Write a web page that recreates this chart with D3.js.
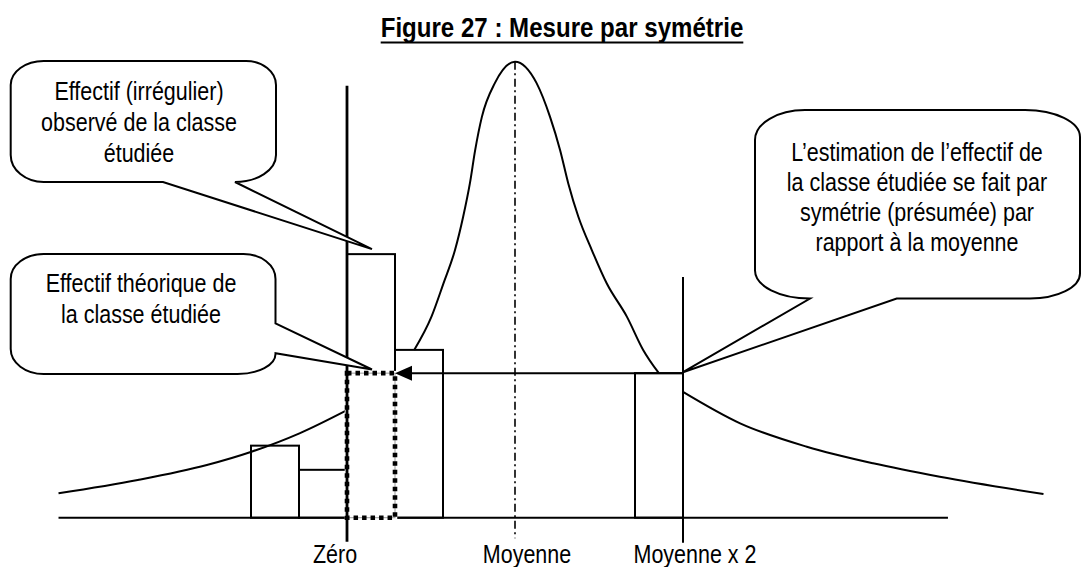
<!DOCTYPE html>
<html><head><meta charset="utf-8">
<script src="https://cdn.jsdelivr.net/npm/d3@7"></script>
<style>body{margin:0;background:#fff}svg{display:block}</style>
</head><body>
<svg id="c" width="1082" height="567"></svg>
<script>
// ---------------- DATA ----------------
const titleText = "Figure 27 : Mesure par symétrie";
const tickValues = [0, 3.5, 7];
const tickLabels = ["Zéro", "Moyenne", "Moyenne x 2"];

// histogram classes (observed)
const barStart  = [-2, -1, 0, 1, 6];
const barEnd    = [-1, 0, 1, 2, 7];
const barHeight = [15.8, 10.5, 57.8, 36.8, 31.7];

// theoretical class (dotted)
const theoStart = 0, theoEnd = 1, theoHeight = 31.7;

// bell curve (central part)
const bellX = [1.40, 1.76, 2.01, 2.25, 2.42, 2.56, 2.67, 2.81, 3.08, 3.5, 3.95, 4.23, 4.44, 4.61, 4.82, 5.10, 5.41, 5.83, 6.17, 6.49];
const bellY = [36.8, 44.1, 51.4, 58.7, 66.0, 73.3, 80.6, 87.9, 95.3, 100, 95.3, 87.9, 80.6, 73.3, 66.0, 58.7, 51.4, 44.1, 36.8, 31.8];

// tails
const leftTailX  = [-6.01, -4.36, -2.92, -1.99, -0.99, 0];
const leftTailY  = [5.35, 8.27, 11.56, 14.47, 18.51, 23.6];
const rightTailX = [7.0, 8.19, 9.58, 10.96, 12.35, 14.51];
const rightTailY = [27.6, 20.7, 15.57, 11.93, 8.99, 5.2];

// axis extent and reference lines
const axisRange = [-6.01, 12.52];
const zeroLineRange = [-5.3, 94.7];
const meanLineRange = [-4.5, 100];
const doubleLineRange = [-5.5, 52.8];

// callouts
const calloutTexts = [
  ["Effectif (irrégulier)", "observé de la classe", "étudiée"],
  ["Effectif théorique de", "la classe étudiée"],
  ["L’estimation de l’effectif de", "la classe étudiée se fait par", "symétrie (présumée) par", "rapport à la moyenne"]
];
const calloutTargetX = [0.52, 0.52, 7];
const calloutTargetY = [58.9, 32.5, 31.9];

// ---------------- LAYOUT ----------------
const svg = d3.select("#c");
const x = d3.scaleLinear().domain([0, 7]).range([347, 683]);
const y = d3.scaleLinear().domain([0, 100]).range([517.7, 61.7]);
const FONT = "'Liberation Sans', Arial, sans-serif";
const NARROW = 0.86;
const ink = "#000";

// title
const tcx = 562;
const tt = svg.append("text").attr("transform", `translate(${tcx},37) scale(${NARROW},1)`).attr("text-anchor", "middle")
  .attr("font-family", FONT).attr("font-weight", "bold").attr("font-size", 28).attr("fill", ink).text(titleText);
const tw = tt.node().getComputedTextLength() * NARROW;
svg.append("line").attr("x1", tcx - tw / 2).attr("x2", tcx + tw / 2).attr("y1", 42.5).attr("y2", 42.5)
  .attr("stroke", ink).attr("stroke-width", 2);

// axis
svg.append("line").attr("x1", x(axisRange[0])).attr("x2", x(axisRange[1]))
  .attr("y1", y(0)).attr("y2", y(0)).attr("stroke", ink).attr("stroke-width", 2);

// mean dash-dot line
svg.append("line").attr("x1", x(tickValues[1])).attr("x2", x(tickValues[1]))
  .attr("y1", y(meanLineRange[1])).attr("y2", y(meanLineRange[0]))
  .attr("stroke", ink).attr("stroke-width", 1.6).attr("stroke-dasharray", "8,3.5,2,3.5");

// curves
const line = d3.line().x(d => x(d[0])).y(d => y(d[1])).curve(d3.curveMonotoneX);
const curveStyle = sel => sel.attr("fill", "none").attr("stroke", ink).attr("stroke-width", 2);
[[bellX, bellY], [leftTailX, leftTailY], [rightTailX, rightTailY]].forEach(([xs, ys]) => {
  svg.append("path").datum(xs.map((v, i) => [v, ys[i]])).attr("d", line).call(curveStyle);
});

// bars
svg.append("g").selectAll("rect").data(barStart).join("rect")
  .attr("x", d => x(d)).attr("width", (d, i) => x(barEnd[i]) - x(d))
  .attr("y", (d, i) => y(barHeight[i])).attr("height", (d, i) => y(0) - y(barHeight[i]))
  .attr("fill", "none").attr("stroke", ink).attr("stroke-width", 2);

// theoretical dotted class
const theo = () => svg.append("rect").attr("x", x(theoStart)).attr("width", x(theoEnd) - x(theoStart))
  .attr("y", y(theoHeight)).attr("height", y(0) - y(theoHeight)).attr("fill", "none");
theo().attr("stroke", "#fff").attr("stroke-width", 4.5);
theo().attr("stroke", "#999").attr("stroke-width", 1);
theo().attr("stroke", ink).attr("stroke-width", 4.6).attr("stroke-dasharray", "4.5,4");

// zero line (thick)
svg.append("line").attr("x1", x(0)).attr("x2", x(0))
  .attr("y1", y(zeroLineRange[1])).attr("y2", y(zeroLineRange[0]))
  .attr("stroke", ink).attr("stroke-width", 2.8);

// mean x 2 line
svg.append("line").attr("x1", x(7)).attr("x2", x(7))
  .attr("y1", y(doubleLineRange[1])).attr("y2", y(doubleLineRange[0]))
  .attr("stroke", ink).attr("stroke-width", 2);

// symmetry arrow
const ay = y(theoHeight);
svg.append("line").attr("x1", x(7)).attr("x2", x(1) + 12).attr("y1", ay).attr("y2", ay)
  .attr("stroke", ink).attr("stroke-width", 2);
svg.append("path").attr("d", `M${x(1)},${ay}L${x(1) + 17},${ay - 7.5}L${x(1) + 17},${ay + 7.5}Z`).attr("fill", ink);

// tick labels
const labelDx = [-12, 12, 12];
svg.append("g").selectAll("text").data(tickLabels).join("text")
  .attr("transform", (d, i) => `translate(${x(tickValues[i]) + labelDx[i]},563) scale(${NARROW},1)`)
  .attr("text-anchor", "middle").attr("font-family", FONT).attr("font-size", 25).attr("fill", ink)
  .text(d => d);

// callouts
function calloutPath(b, r, p) {
  const {x0, y0, x1, y1} = b;
  let s = `M${x0 + r.tl[0]},${y0}L${x1 - r.tr[0]},${y0}`;
  s += `A${r.tr[0]},${r.tr[1]} 0 0 1 ${x1},${y0 + r.tr[1]}`;
  if (p.side === "right") s += `L${x1},${p.a}L${p.tip[0]},${p.tip[1]}L${x1},${p.b}`;
  s += `L${x1},${y1 - r.br[1]}A${r.br[0]},${r.br[1]} 0 0 1 ${x1 - r.br[0]},${y1}`;
  if (p.side === "bottom") s += `L${p.b},${y1}L${p.tip[0]},${p.tip[1]}L${p.a},${y1}`;
  s += `L${x0 + r.bl[0]},${y1}A${r.bl[0]},${r.bl[1]} 0 0 1 ${x0},${y1 - r.bl[1]}`;
  s += `L${x0},${y0 + r.tl[1]}A${r.tl[0]},${r.tl[1]} 0 0 1 ${x0 + r.tl[0]},${y0}Z`;
  return s;
}
const callouts = [
  {box: {x0: 10.7, y0: 61, x1: 276, y1: 182}, r: {tl: [33, 24], tr: [30, 24], br: [41, 27], bl: [33, 27]},
   ptr: {side: "bottom", a: 163, b: 235}, cx: 139, base: 99.5, lh: 31},
  {box: {x0: 10.7, y0: 254, x1: 275.5, y1: 374}, r: {tl: [33, 25], tr: [32, 25], br: [38, 20], bl: [33, 25]},
   ptr: {side: "right", a: 323.3, b: 353.3}, cx: 141, base: 292, lh: 31},
  {box: {x0: 755, y0: 110, x1: 1080, y1: 298.5}, r: {tl: [50, 30], tr: [55, 27], br: [50, 25], bl: [55, 28]},
   ptr: {side: "bottom", a: 810, b: 896.7}, cx: 917, base: 161, lh: 30}
];
callouts.forEach((c, i) => {
  c.ptr.tip = [x(calloutTargetX[i]), y(calloutTargetY[i])];
  svg.append("path").attr("d", calloutPath(c.box, c.r, c.ptr))
    .attr("fill", "#fff").attr("stroke", ink).attr("stroke-width", 2).attr("stroke-linejoin", "miter");
  svg.append("g").selectAll("text").data(calloutTexts[i]).join("text")
    .attr("transform", (d, j) => `translate(${c.cx},${c.base + j * c.lh}) scale(${NARROW},1)`)
    .attr("text-anchor", "middle").attr("font-family", FONT).attr("font-size", 25).attr("fill", ink)
    .text(d => d);
});
</script>
</body></html>
